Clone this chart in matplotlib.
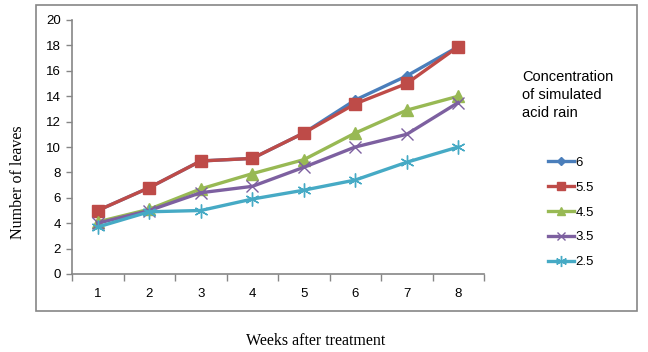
import matplotlib.pyplot as plt
from matplotlib.patches import Rectangle

weeks = [1, 2, 3, 4, 5, 6, 7, 8]
conc_6 = [5.0, 6.8, 8.9, 9.1, 11.1, 13.7, 15.6, 17.9]
conc_55 = [5.0, 6.8, 8.9, 9.1, 11.1, 13.4, 15.0, 17.9]
conc_45 = [4.1, 5.1, 6.7, 7.9, 9.0, 11.1, 12.9, 14.0]
conc_35 = [4.0, 5.0, 6.4, 6.9, 8.4, 10.0, 11.0, 13.5]
conc_25 = [3.7, 4.9, 5.0, 5.9, 6.6, 7.4, 8.8, 10.0]
labels = ["6", "5.5", "4.5", "3.5", "2.5"]

SERIES = [
    (conc_6, "#4A7EBB", "D", 5),
    (conc_55, "#BE4B48", "s", 8),
    (conc_45, "#98B954", "^", 8),
    (conc_35, "#7D60A0", "x", 8),
    (conc_25, "#46AAC5", (6, 2, 0), 10),
]

SANS = "Liberation Sans"
SERIF = "Liberation Serif"

fig = plt.figure(figsize=(6.48, 3.52), dpi=100)
ax = fig.add_axes([72 / 648, 1 - 274 / 352, 412 / 648, 254 / 352])

# outer chart frame
fig.patches.append(Rectangle((36 / 648, 1 - 311 / 352), 601 / 648, 306 / 352,
                             transform=fig.transFigure, fill=False,
                             edgecolor="#868686", linewidth=1.2))

handles = []
for (vals, color, marker, ms), lab in zip(SERIES, labels):
    h, = ax.plot(weeks, vals, color=color, linewidth=2.4, marker=marker,
                 markersize=ms, markeredgecolor=color, markeredgewidth=1.0,
                 label=lab)
    handles.append(h)

ax.set_xlim(0.5, 8.5)
ax.set_ylim(0, 20)
ax.set_yticks(range(0, 21, 2))
ax.set_xticks(weeks)
ax.set_xticks([x + 0.5 for x in range(0, 9)], minor=True)
ax.tick_params(axis="x", which="major", length=0, pad=10)
ax.tick_params(axis="x", which="minor", length=5, color="#868686", width=1)
ax.tick_params(axis="y", length=4, color="#868686", width=1, pad=4)
for lbl in ax.get_xticklabels() + ax.get_yticklabels():
    lbl.set_fontfamily(SANS)
    lbl.set_fontsize(9.5)

for s in ["top", "right"]:
    ax.spines[s].set_visible(False)
for s in ["left", "bottom"]:
    ax.spines[s].set_color("#868686")
    ax.spines[s].set_linewidth(1.2)

fig.text(18 / 648, 1 - 182 / 352, "Number of leaves", rotation=90,
         ha="center", va="center", fontsize=11.5, family=SERIF)
fig.text(316 / 648, 1 - 341 / 352, "Weeks after treatment",
         ha="center", va="center", fontsize=11.5, family=SERIF)

fig.text(522 / 648, 1 - 95 / 352, "Concentration\nof simulated\nacid rain",
         ha="left", va="center", fontsize=10.5, family=SANS, linespacing=1.4)

leg = fig.legend(handles=handles, loc="upper left",
                 bbox_to_anchor=(536 / 648, 1 - 145 / 352), frameon=False,
                 prop={"family": SANS, "size": 9.5}, handlelength=2.0,
                 handletextpad=0.1, labelspacing=0.95, markerscale=0.8)

fig.savefig("out.png", dpi=100)
